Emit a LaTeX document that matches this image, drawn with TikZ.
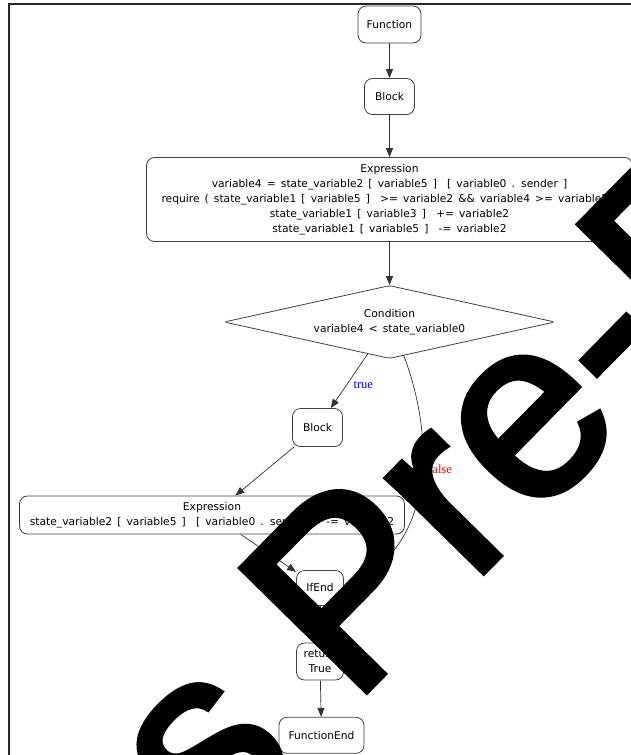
\documentclass[tikz,border=0pt]{standalone}
\usepackage{fontspec}
\usetikzlibrary{positioning,shapes.geometric,arrows.meta}
\newfontfamily\graphfont{DejaVu Sans}[WordSpace=1.5]
\newfontfamily\edgefont{Liberation Serif}
\newfontfamily\markfont{Liberation Sans}[FakeBold=2.5]
\tikzstyle{stmt} = [rectangle, rounded corners=8pt, draw=black!75, line width=0.8pt, fill=white, align=center, inner sep=1pt, font=\graphfont\fontsize{10.7}{15}\selectfont]
\tikzstyle{decision} = [diamond, aspect=4.5, rounded corners=3pt, draw=black!75, line width=0.8pt, fill=white, align=center, inner sep=0pt, font=\graphfont\fontsize{10.7}{15}\selectfont]
\tikzstyle{arrow} = [draw=black!80, line width=0.7pt, -{Triangle[length=9pt,width=7pt]}]
\tikzstyle{edgelabel} = [font=\edgefont\fontsize{12.5}{13}\selectfont, inner sep=1pt]
\tikzstyle{wmark} = [font=\markfont\fontsize{255}{255}\selectfont, inner sep=0pt, rotate=45.5, text=black]
\begin{document}
\begin{tikzpicture}[x=1pt, y=-1pt, node distance=72pt]
\useasboundingbox (0,0) rectangle (631,755);
\clip (0,0) rectangle (631,755);
\draw [line width=1.2pt, black!85] (9,760) -- (9,4) -- (640,4);
% main column
\node (fun) [stmt, minimum width=63pt, minimum height=37pt] at (389.5,24.5) {Function};
\node (blk1) [stmt, below of=fun, minimum width=50pt, minimum height=36pt] {Block};
\draw [arrow] (fun) -- (blk1);
\node (exp1) [stmt, below of=blk1, yshift=-31pt, minimum width=486pt, minimum height=84pt] {Expression\\variable4 = state\_variable2 [ variable5 ]\ \ [ variable0 . sender ]\\require ( state\_variable1 [ variable5 ]\ \ >= variable2 \&\& variable4 >= variable2 )\\state\_variable1 [ variable3 ]\ \ += variable2\\state\_variable1 [ variable5 ]\ \ -= variable2};
\draw [arrow] (blk1) -- (exp1);
\node (cond) [decision, below of=exp1, yshift=-50.5pt, minimum width=331pt, minimum height=73pt] {Condition\\variable4 < state\_variable0};
\draw [arrow] (exp1) -- (cond);
% true branch
\node (blk2) [stmt, below of=cond, xshift=-72pt, yshift=-33.5pt, minimum width=50pt, minimum height=38pt] {Block};
\draw [arrow] (cond) -- node[edgelabel, anchor=west, xshift=3pt, yshift=-4pt, text=blue] {true} (blk2);
\node (exp2) [stmt, below of=blk2, xshift=-105.5pt, yshift=-15.5pt, minimum width=385pt, minimum height=38pt] {Expression\\state\_variable2 [ variable5 ]\ \ [ variable0 . sender ]\ \ -= variable2};
\draw [arrow] (blk2) -- (exp2);
\node (ifend) [stmt, below of=blk2, xshift=2.5pt, yshift=-88.5pt, minimum width=47pt, minimum height=35pt] {IfEnd};
\draw [arrow] (exp2) -- (ifend);
% false branch
\draw [arrow] (cond.-67) .. controls (432,430) and (440,540) .. node[edgelabel, pos=0.45, anchor=west, xshift=5pt, text=red] {false} (ifend.east);
\node (ret) [stmt, below of=ifend, yshift=-1.5pt, minimum width=47pt, minimum height=37pt] {return\\True};
\draw [arrow] (ifend) -- (ret);
\node (fend) [stmt, below of=ret, xshift=1.5pt, yshift=-1.8pt, minimum width=85pt, minimum height=36pt] {FunctionEnd};
\draw [arrow] (ret) -- (fend);
% watermark
\node (wmp) [wmark, anchor=base west] at (352,706) {Pre-P};
\node (wms) [wmark, anchor=base east] at (302.3,756.6) {s};
\end{tikzpicture}
\end{document}
